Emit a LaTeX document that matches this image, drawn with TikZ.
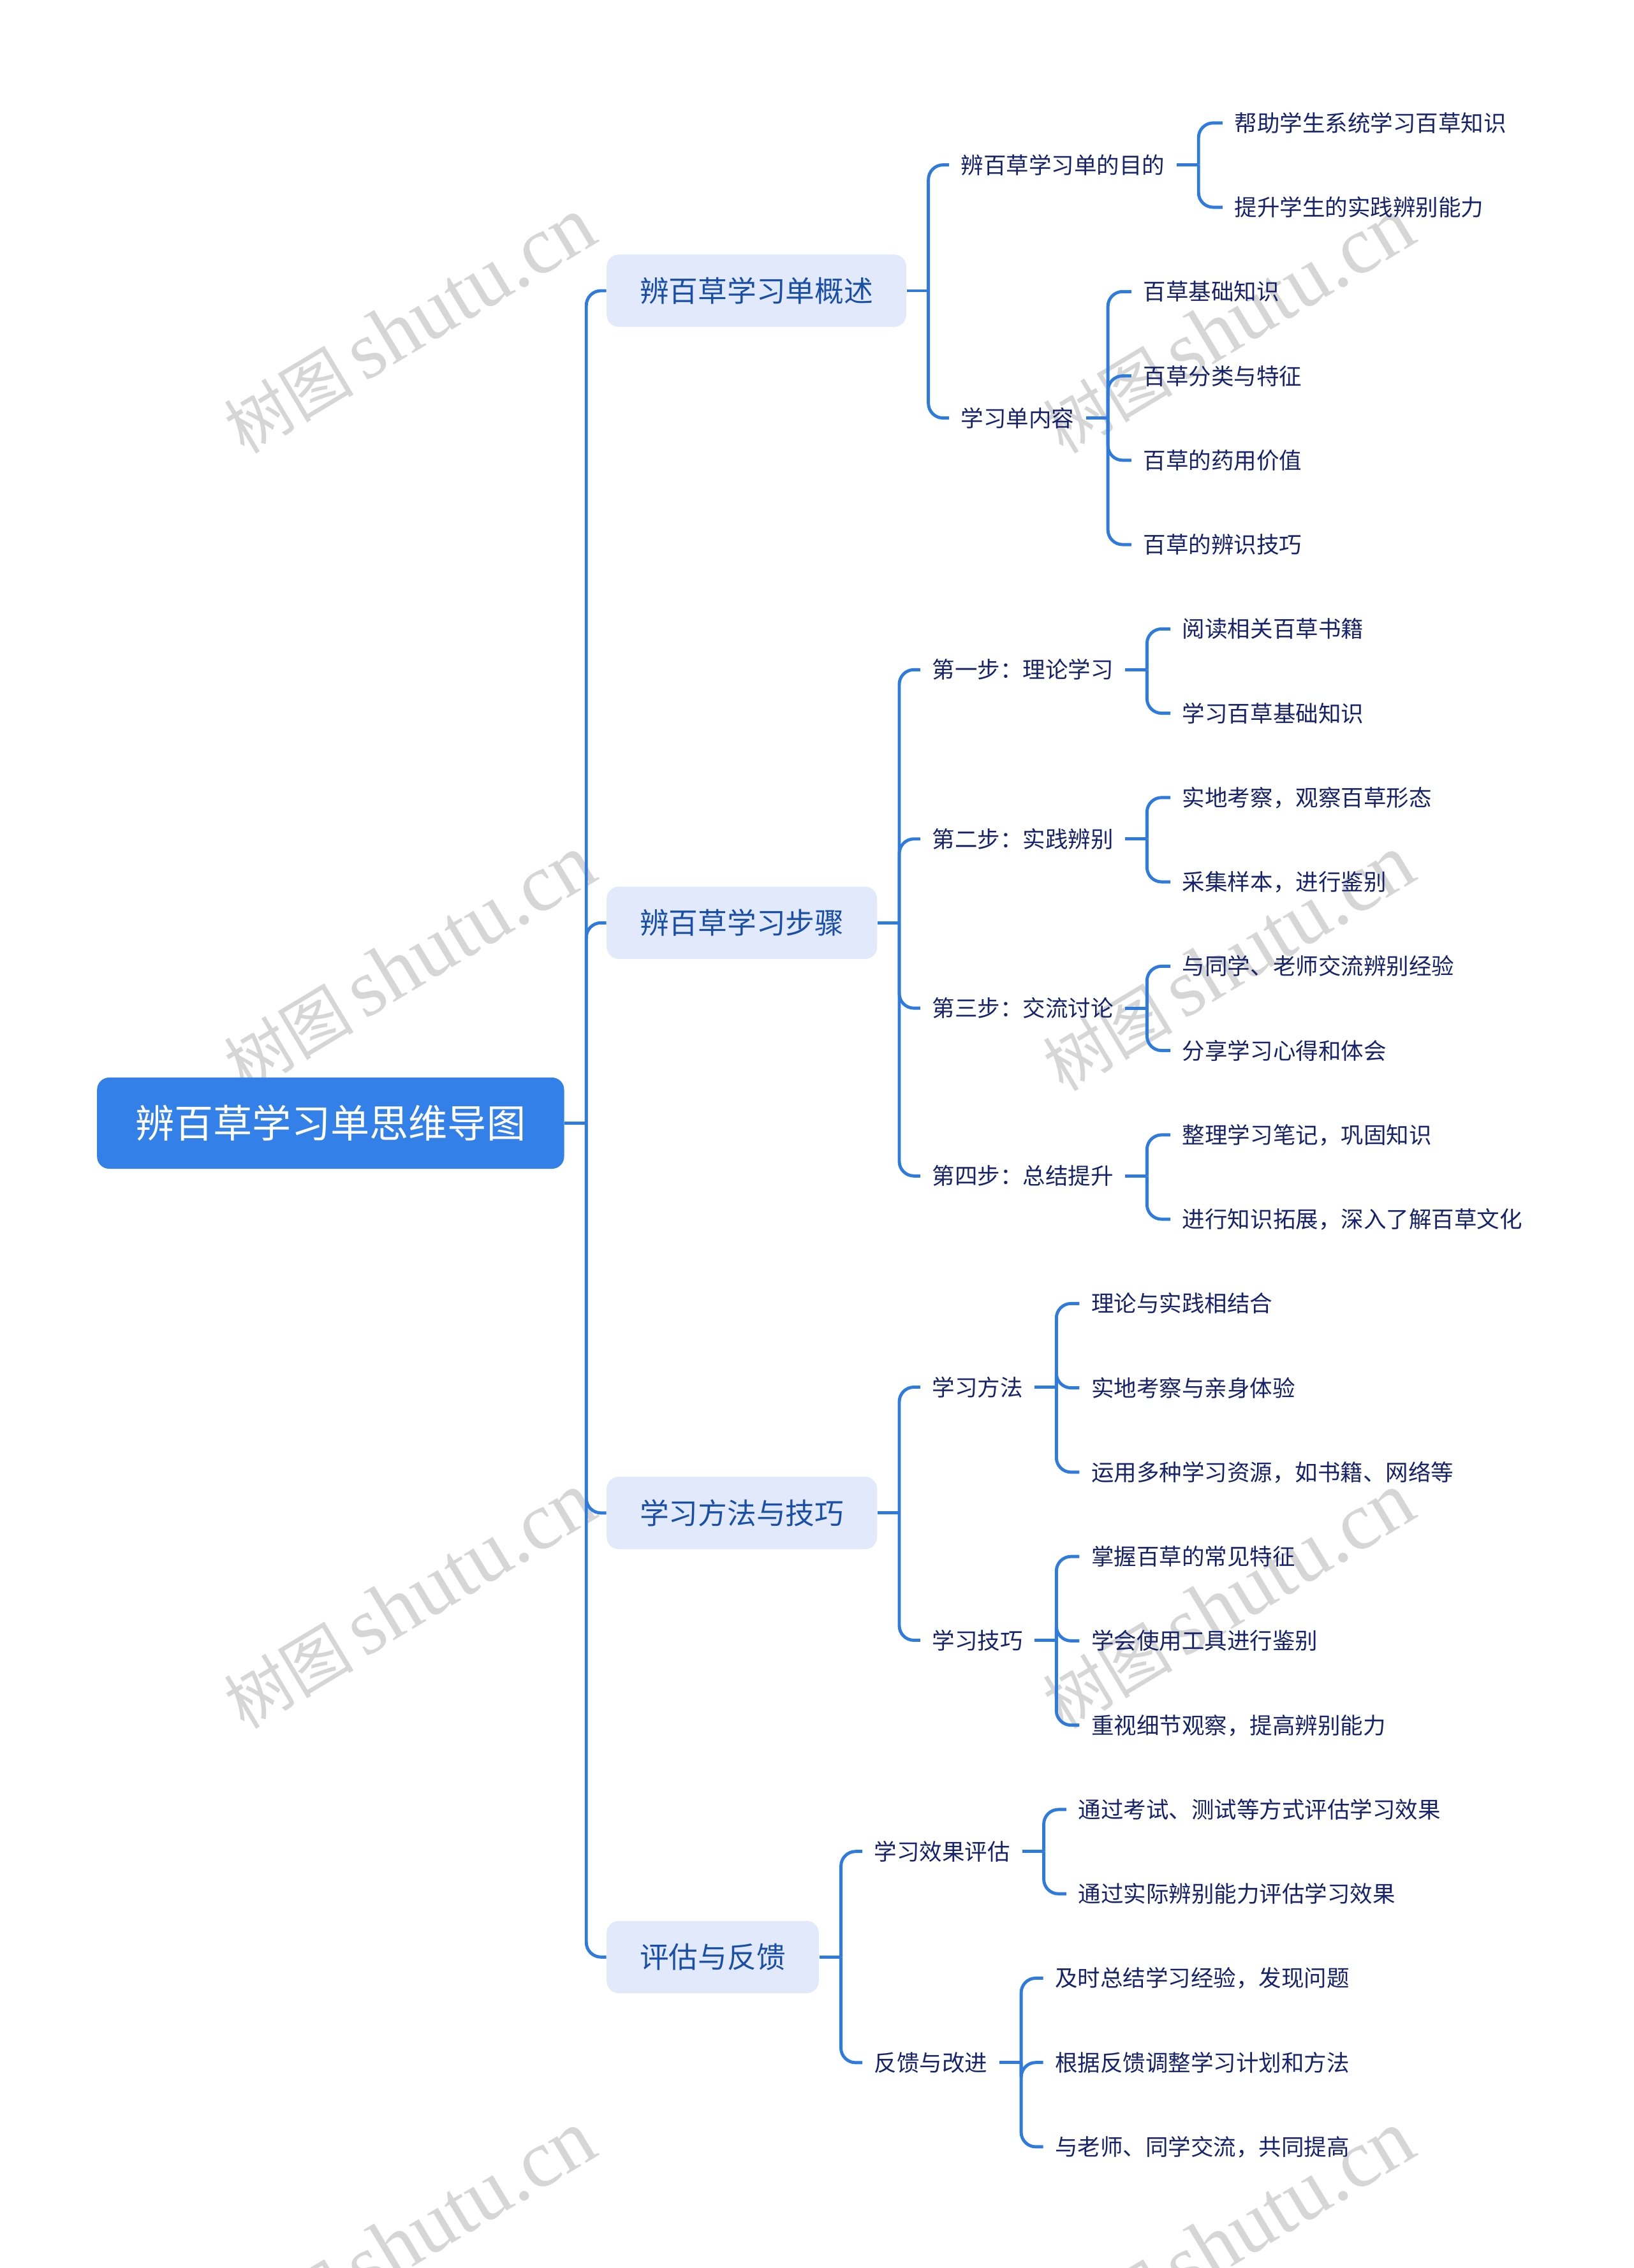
\documentclass[tikz,border=0pt]{standalone}
\usepackage{fontspec}
\setmainfont{Noto Sans CJK SC}
\newfontfamily\wmlatin{Liberation Serif}
\usetikzlibrary{calc}
\definecolor{rootc}{HTML}{3381E8}
\definecolor{wire}{HTML}{2F7BDD}
\definecolor{topicbg}{HTML}{E1E9FB}
\definecolor{topicfg}{HTML}{1A4FA8}
\definecolor{ink}{HTML}{16236A}
\definecolor{wmark}{HTML}{D6D6D6}
\tikzset{
  rootbox/.style={fill=rootc,text=white,rounded corners=0.19cm,minimum width=7.32cm,minimum height=1.43cm,
    font=\fontsize{17.4pt}{20pt}\selectfont,text height=15.3pt,text depth=2.1pt},
  topicbox/.style={anchor=west,fill=topicbg,text=topicfg,rounded corners=0.19cm,inner xsep=0.52cm,minimum height=1.134cm,
    font=\fontsize{13pt}{15pt}\selectfont,text height=11.4pt,text depth=1.6pt},
  subtext/.style={anchor=west,text=ink,inner xsep=0.18cm,inner ysep=1pt,
    font=\fontsize{10.1pt}{12pt}\selectfont,text height=8.9pt,text depth=1.2pt},
  link/.style={draw=wire,line width=1.4pt,rounded corners=0.23cm},
  wm/.style={text=wmark,inner sep=0pt,font=\fontsize{29pt}{29pt}\selectfont},
}
\begin{document}
\begin{tikzpicture}[x=0.022675cm,y=-0.022675cm]
  \useasboundingbox (0,0) rectangle (1129,1568);
  % ---------- watermark ----------
  \foreach \wx in {283,849} \foreach \wy in {225,666,1107,1548}
    \node[wm,rotate=31] (wm-\wx-\wy) at (\wx,\wy) {树图\,{\wmlatin\fontsize{36.5pt}{36.5pt}\selectfont shutu.cn}};
  % ---------- root ----------
  \node[rootbox] (root) at (228.5,776.5) {辨百草学习单思维导图};
  \coordinate (s0) at ($(root.east)+(15,0)$);
  \draw[link] (root.east) -- (s0);
  % ---------- main topics ----------
  \foreach \n/\y/\t in {A/201/辨百草学习单概述,B/638/辨百草学习步骤,C/1046/学习方法与技巧,D/1353/评估与反馈}{
    \node[topicbox] (\n) at (419,\y) {\t};
    \coordinate (s\n) at ($(\n.east)+(15,0)$);
    \draw[link] (s0) |- (\n.west);
    \draw[link] (\n.east) -- (s\n);
  }
  % ---------- sub topics ----------
  \foreach \n/\x/\y/\p/\t in {A1/656/114/A/辨百草学习单的目的,A2/656/289/A/学习单内容,
      B1/636/463/B/第一步：理论学习,B2/636/580/B/第二步：实践辨别,B3/636/697/B/第三步：交流讨论,B4/636/813/B/第四步：总结提升,
      C1/636/959/C/学习方法,C2/636/1134/C/学习技巧,
      D1/596/1280/D/学习效果评估,D2/596/1426/D/反馈与改进}{
    \node[subtext] (\n) at (\x,\y) {\t};
    \coordinate (s\n) at ($(\n.east)+(15,0)$);
    \draw[link] (s\p) |- (\n.west);
    \draw[link] (\n.east) -- (s\n);
  }
  % ---------- leaves (one row each) ----------
  \foreach \k/\x/\p/\t in {0/845/A1/帮助学生系统学习百草知识,1/845/A1/提升学生的实践辨别能力,
      2/782/A2/百草基础知识,3/782/A2/百草分类与特征,4/782/A2/百草的药用价值,5/782/A2/百草的辨识技巧,
      6/809/B1/阅读相关百草书籍,7/809/B1/学习百草基础知识,
      8/809/B2/实地考察，观察百草形态,9/809/B2/采集样本，进行鉴别,
      10/809/B3/与同学、老师交流辨别经验,11/809/B3/分享学习心得和体会,
      12/809/B4/整理学习笔记，巩固知识,13/809/B4/进行知识拓展，深入了解百草文化,
      14/746/C1/理论与实践相结合,15/746/C1/实地考察与亲身体验,16/746/C1/运用多种学习资源，如书籍、网络等,
      17/746/C2/掌握百草的常见特征,18/746/C2/学会使用工具进行鉴别,19/746/C2/重视细节观察，提高辨别能力,
      20/737/D1/通过考试、测试等方式评估学习效果,21/737/D1/通过实际辨别能力评估学习效果,
      22/721/D2/及时总结学习经验，发现问题,23/721/D2/根据反馈调整学习计划和方法,24/721/D2/与老师、同学交流，共同提高}{
    \node[subtext] (L\k) at (\x,{85+58.3*\k}) {\t};
    \draw[link] (s\p) |- (L\k.west);
  }
\end{tikzpicture}
\end{document}
